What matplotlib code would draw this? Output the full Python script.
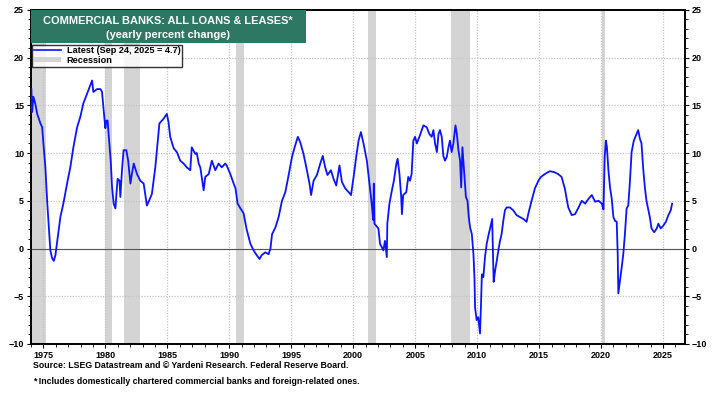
import matplotlib
matplotlib.use("Agg")
import matplotlib.pyplot as plt
from matplotlib.patches import Rectangle, Patch
from matplotlib.lines import Line2D
from matplotlib.ticker import MultipleLocator

plt.rcParams['font.family'] = ['Liberation Sans', 'DejaVu Sans']

# yearly % change (decimal year, value)
years = [
    1974.03, 1974.09, 1974.19, 1974.34, 1974.50, 1974.76, 1974.90, 1975.00, 1975.16, 1975.30,
    1975.42, 1975.56, 1975.70, 1975.84, 1975.97, 1976.16, 1976.37, 1976.61, 1976.91, 1977.17,
    1977.42, 1977.72, 1977.98, 1978.22, 1978.52, 1978.93, 1979.03, 1979.33, 1979.60, 1979.73,
    1979.86, 1980.00, 1980.08, 1980.18, 1980.26, 1980.43, 1980.54, 1980.67, 1980.81, 1980.89,
    1980.99, 1981.14, 1981.21, 1981.34, 1981.47, 1981.69, 1981.84, 1982.02, 1982.15, 1982.29,
    1982.55, 1982.82, 1983.09, 1983.35, 1983.49, 1983.75, 1984.03, 1984.16, 1984.36, 1984.70,
    1984.96, 1985.10, 1985.23, 1985.51, 1985.77, 1986.04, 1986.31, 1986.57, 1986.85, 1986.97,
    1987.26, 1987.38, 1987.53, 1987.66, 1987.93, 1988.06, 1988.34, 1988.59, 1988.87, 1989.14,
    1989.39, 1989.67, 1989.79, 1990.08, 1990.35, 1990.50, 1990.67, 1990.90, 1991.15, 1991.40,
    1991.70, 1991.96, 1992.21, 1992.44, 1992.61, 1992.91, 1993.17, 1993.32, 1993.45, 1993.72,
    1993.98, 1994.25, 1994.52, 1994.79, 1995.06, 1995.27, 1995.53, 1995.73, 1995.99, 1996.26,
    1996.47, 1996.60, 1996.80, 1997.07, 1997.34, 1997.54, 1997.74, 1997.92, 1998.20, 1998.41,
    1998.63, 1998.89, 1999.08, 1999.35, 1999.63, 1999.82, 2000.03, 2000.24, 2000.43, 2000.62,
    2000.83, 2001.10, 2001.31, 2001.49, 2001.61, 2001.66, 2001.71, 2002.03, 2002.16, 2002.43,
    2002.56, 2002.71, 2002.75, 2002.92, 2003.12, 2003.28, 2003.48, 2003.58, 2003.73, 2003.87,
    2003.93, 2004.03, 2004.28, 2004.44, 2004.58, 2004.71, 2004.85, 2004.99, 2005.13, 2005.34,
    2005.53, 2005.66, 2005.93, 2006.14, 2006.33, 2006.47, 2006.60, 2006.75, 2006.88, 2007.00,
    2007.14, 2007.27, 2007.40, 2007.55, 2007.68, 2007.80, 2007.94, 2008.08, 2008.25, 2008.36,
    2008.49, 2008.62, 2008.71, 2008.81, 2008.96, 2009.09, 2009.22, 2009.32, 2009.43, 2009.57,
    2009.70, 2009.78, 2009.83, 2009.96, 2010.09, 2010.23, 2010.31, 2010.38, 2010.50, 2010.63,
    2010.77, 2010.93, 2011.06, 2011.21, 2011.33, 2011.45, 2011.58, 2011.71, 2011.83, 2011.97,
    2012.11, 2012.24, 2012.38, 2012.64, 2012.91, 2013.18, 2013.44, 2013.72, 2013.99, 2014.12,
    2014.39, 2014.66, 2014.94, 2015.15, 2015.46, 2015.86, 2016.21, 2016.53, 2016.81, 2017.07,
    2017.35, 2017.63, 2017.90, 2018.18, 2018.44, 2018.71, 2018.98, 2019.25, 2019.52, 2019.79,
    2020.06, 2020.19, 2020.29, 2020.39, 2020.47, 2020.59, 2020.72, 2020.86, 2020.99, 2021.12,
    2021.26, 2021.34, 2021.39, 2021.49, 2021.66, 2021.79, 2021.92, 2022.06, 2022.19, 2022.33,
    2022.46, 2022.64, 2022.86, 2022.99, 2023.13, 2023.26, 2023.39, 2023.53, 2023.66, 2023.79,
    2023.93, 2024.07, 2024.28, 2024.49, 2024.62, 2024.81, 2025.02, 2025.23, 2025.43, 2025.62,
    2025.73,
]
values = [
    16.7, 14.3, 15.9, 15.2, 14.1, 13.1, 12.7, 11.0, 8.5, 5.0,
    2.6, -0.2, -1.0, -1.3, -0.7, 1.2, 3.3, 4.7, 6.8, 8.5,
    10.6, 12.7, 13.8, 15.2, 16.2, 17.6, 16.4, 16.7, 16.7, 16.4,
    14.5, 12.6, 13.4, 13.4, 12.0, 9.2, 6.4, 4.7, 4.2, 5.7,
    7.3, 7.1, 5.4, 8.2, 10.3, 10.3, 9.2, 6.8, 7.9, 8.9,
    7.8, 7.1, 6.8, 4.5, 4.9, 5.7, 8.5, 10.3, 13.1, 13.6,
    14.1, 13.2, 11.7, 10.5, 10.1, 9.2, 8.9, 8.5, 8.2, 10.6,
    9.9, 10.0, 8.9, 8.5, 6.1, 7.5, 7.8, 9.2, 8.2, 8.9,
    8.5, 8.9, 8.7, 7.8, 6.8, 6.3, 4.7, 4.2, 3.7, 2.0,
    0.5, -0.2, -0.7, -1.1, -0.7, -0.4, -0.6, 0.0, 1.5, 2.2,
    3.3, 5.0, 5.9, 7.7, 9.6, 10.6, 11.7, 11.1, 9.9, 8.2,
    6.8, 5.6, 7.1, 7.7, 8.9, 9.7, 8.5, 7.7, 8.2, 7.3,
    6.6, 8.7, 7.0, 6.3, 5.9, 5.6, 7.5, 9.6, 11.3, 12.2,
    11.0, 9.2, 6.8, 4.7, 3.0, 6.8, 2.6, 2.1, 0.5, -0.2,
    0.8, -0.9, 2.6, 4.7, 6.1, 7.1, 8.9, 9.4, 7.8, 5.4,
    3.6, 5.6, 5.9, 7.5, 7.1, 7.8, 11.3, 11.7, 11.0, 11.7,
    12.4, 12.9, 12.7, 12.0, 11.7, 12.4, 11.0, 10.1, 12.0, 12.4,
    11.7, 9.7, 9.2, 9.6, 10.6, 11.3, 10.1, 11.0, 12.9, 12.0,
    10.3, 9.2, 6.4, 10.6, 7.8, 5.4, 5.0, 3.3, 2.2, 1.5,
    -0.6, -3.0, -6.2, -7.5, -7.2, -8.9, -5.8, -2.7, -3.0, -0.9,
    0.5, 1.5, 2.2, 3.1, -3.5, -2.3, -1.3, -0.2, 0.7, 1.5,
    2.9, 4.0, 4.3, 4.3, 4.0, 3.5, 3.3, 3.1, 2.8, 3.6,
    5.0, 6.3, 7.1, 7.5, 7.8, 8.1, 8.0, 7.8, 7.5, 6.3,
    4.3, 3.5, 3.6, 4.3, 5.0, 4.7, 5.2, 5.6, 4.9, 5.0,
    4.7, 4.1, 9.6, 11.3, 10.6, 8.2, 6.4, 5.2, 3.3, 2.9,
    2.8, -0.6, -4.7, -3.7, -2.0, -0.6, 1.5, 4.2, 4.5, 7.1,
    10.1, 11.3, 12.0, 12.4, 11.5, 11.0, 8.5, 6.4, 5.0, 4.2,
    3.3, 2.1, 1.7, 2.1, 2.6, 2.1, 2.4, 2.8, 3.5, 4.0,
    4.7,
]

# NBER recessions (start, end) in decimal years
rec_start = [1973.92, 1980.00, 1981.50, 1990.50, 2001.17, 2007.92, 2020.08]
rec_end = [1975.17, 1980.50, 1982.83, 1991.17, 2001.83, 2009.42, 2020.33]

title_lines = ["COMMERCIAL BANKS: ALL LOANS & LEASES*", "(yearly percent change)"]
legend_latest = "Latest (Sep 24, 2025 = 4.7)"
footnotes = ["Source: LSEG Datastream and \u00a9 Yardeni Research. Federal Reserve Board.",
             "* Includes domestically chartered commercial banks and foreign-related ones."]

fig = plt.figure(figsize=(7.28, 3.94), dpi=100)
ax = fig.add_axes([0.0426, 0.127, 0.898, 0.848])

for s, e in zip(rec_start, rec_end):
    ax.axvspan(s, e, color="#d4d4d4", lw=0, zorder=1)

ax.axhline(0, color="#555555", lw=0.8, zorder=2)
ax.plot(years, values, color="#0a14ff", lw=1.3, zorder=3)

ax.set_xlim(1974.0, 2026.75)
ax.set_ylim(-10, 25)
ax.xaxis.set_major_locator(MultipleLocator(5))
ax.xaxis.set_minor_locator(MultipleLocator(1))
ax.yaxis.set_major_locator(MultipleLocator(5))
ax.yaxis.set_minor_locator(MultipleLocator(1))
ax.grid(True, which="major", color="#c4c4c4", ls=(0, (1, 1.2)), lw=0.9, zorder=1.5)

ax.tick_params(axis="both", which="major", labelsize=6.5, length=3, width=0.8,
               direction="out", right=True, labelright=True, pad=2)
ax.tick_params(axis="both", which="minor", length=2, width=0.6, direction="out",
               right=True, top=False)
for t in ax.xaxis.get_major_ticks():
    t.label1.set_fontweight("bold")
for t in ax.yaxis.get_major_ticks():
    t.label1.set_fontweight("bold")
    t.label2.set_fontweight("bold")

for sp in ax.spines.values():
    sp.set_linewidth(1.4)
    sp.set_color("black")

# title box
box_w = 0.42
ax.add_patch(Rectangle((0, 0.901), box_w, 0.099, transform=ax.transAxes,
                       facecolor="#2e7863", edgecolor="none", zorder=5))
ax.text(box_w / 2, 0.967, title_lines[0], transform=ax.transAxes, ha="center", va="center",
        color="white", fontsize=7.9, fontweight="bold", zorder=6)
ax.text(box_w / 2, 0.925, title_lines[1], transform=ax.transAxes, ha="center", va="center",
        color="white", fontsize=7.9, fontweight="bold", zorder=6)

handles = [Line2D([], [], color="#0a14ff", lw=1.2),
           Patch(facecolor="#d4d4d4", edgecolor="none")]
leg = ax.legend(handles, [legend_latest, "Recession"], loc="upper left",
                bbox_to_anchor=(0.0, 0.899), frameon=True, fancybox=False,
                prop={"size": 6.6, "weight": "bold"}, borderpad=0.2,
                handlelength=3.0, handleheight=0.6, labelspacing=0.05,
                handletextpad=0.6, borderaxespad=0.1)
leg.get_frame().set_edgecolor("black")
leg.get_frame().set_linewidth(1.0)
leg.set_zorder(6)

fig.text(0.045, 0.072, footnotes[0], fontsize=6.3, fontweight="bold", va="center")
fig.text(0.045, 0.032, footnotes[1], fontsize=6.3, fontweight="bold", va="center")

fig.savefig("out.png", dpi=100)
